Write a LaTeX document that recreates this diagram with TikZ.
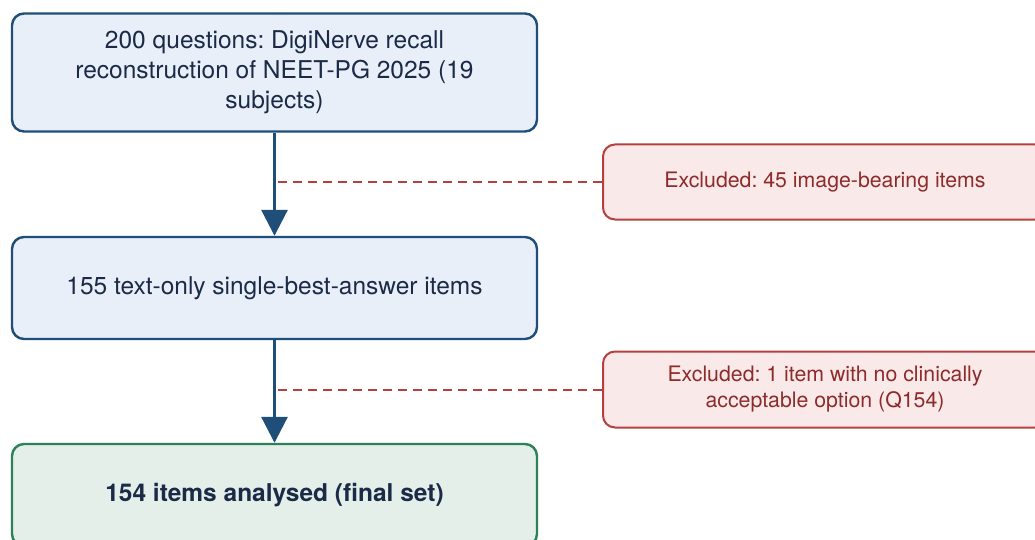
\documentclass[tikz,border=0pt]{standalone}
\usepackage{fontspec}
\setmainfont{TeX Gyre Heros}
\usetikzlibrary{arrows.meta}
\frenchspacing
\definecolor{stepblue}{HTML}{1F4E79}
\definecolor{stepfill}{HTML}{E8EFF8}
\definecolor{exred}{HTML}{B5403F}
\definecolor{exfill}{HTML}{F9E9E9}
\definecolor{extext}{HTML}{8E2B2B}
\definecolor{finalgreen}{HTML}{2E8059}
\definecolor{finalfill}{HTML}{E4EFE9}
\definecolor{navytext}{HTML}{1B2A47}
\begin{document}
\begin{tikzpicture}[x=1pt,y=-1pt,
    stage node/.style={rectangle,rounded corners=12pt,draw=stepblue,fill=stepfill,line width=2.4pt,
      minimum width=525pt,align=center,text=navytext,font=\fontsize{24.5}{30}\selectfont},
    final node/.style={stage node,draw=finalgreen,fill=finalfill,font=\fontsize{24.5}{30}\selectfont\bfseries},
    excl node/.style={rectangle,rounded corners=12pt,draw=exred,fill=exfill,line width=2pt,
      minimum width=444pt,align=center,text=extext,font=\fontsize{21.3}{26}\selectfont},
    flow/.style={draw=stepblue,line width=3pt,-{Triangle[width=26pt,length=26pt]}},
    drop/.style={draw=exred,line width=2pt,dash pattern=on 9pt off 6pt}]
  \useasboundingbox[clip] (0,0) rectangle (1035,540);
  \node[stage node,minimum height=118pt] (s1) at (274.5,72.5) {200 questions: DigiNerve recall\\reconstruction of NEET-PG 2025 (19\\subjects)};
  \node[stage node,minimum height=102pt] (s2) at (274.5,288) {155 text-only single-best-answer items};
  \node[final node,minimum height=102pt] (s3) at (274.5,495) {154 items analysed (final set)};
  \node[excl node,minimum height=75pt] (x1) at (825,182) {Excluded: 45 image-bearing items};
  \node[excl node,minimum height=76pt] (x2) at (825,389.5) {Excluded: 1 item with no clinically\\acceptable option (Q154)};
  % exclusions branch off the main flow
  \path[drop] (x1.west) -- (x1.west -| s1.south);
  \path[drop] (x2.west) -- (x2.west -| s2.south);
  \path[flow] (s1) -- (s2);
  \path[flow] (s2) -- (s3);
\end{tikzpicture}
\end{document}
